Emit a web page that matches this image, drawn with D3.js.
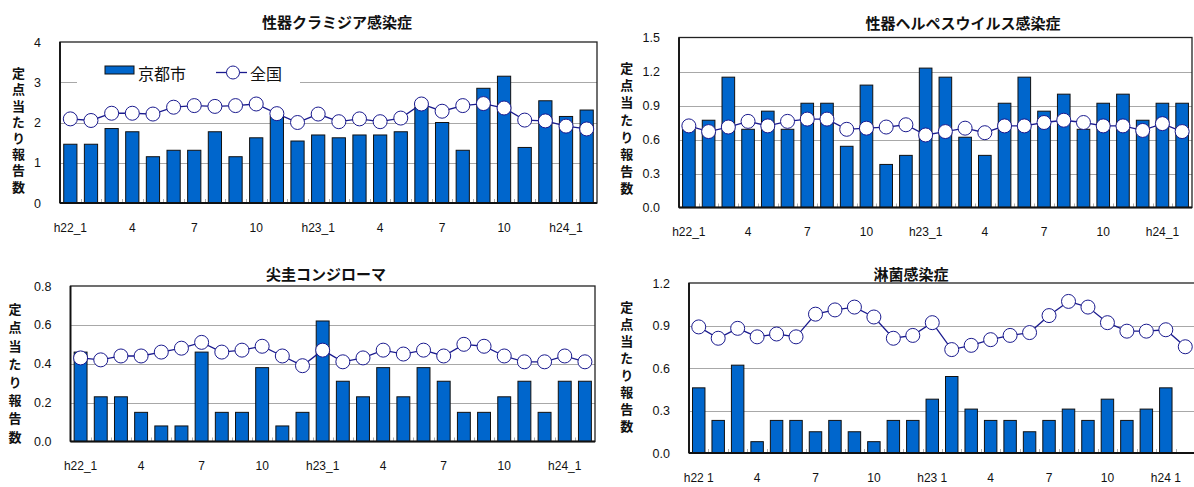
<!DOCTYPE html>
<html><head><meta charset="utf-8">
<script src="https://cdn.jsdelivr.net/npm/d3@7"></script>
<style>html,body{margin:0;padding:0;background:#fff;overflow:hidden}</style>
</head><body><svg id="c" width="1194" height="487"></svg>
<script>
// ---- data ----
const months = [
  "h22_1","h22_2","h22_3","h22_4","h22_5","h22_6","h22_7","h22_8","h22_9","h22_10","h22_11","h22_12",
  "h23_1","h23_2","h23_3","h23_4","h23_5","h23_6","h23_7","h23_8","h23_9","h23_10","h23_11","h23_12",
  "h24_1","h24_2"];
const tickIndex = [0,3,6,9,12,15,18,21,24];
const tickLabels = ["h22_1","4","7","10","h23_1","4","7","10","h24_1"];
const tickLabelsGono = ["h22 1","4","7","10","h23 1","4","7","10","h24 1"];
const seriesNames = ["京都市","全国"];
const yTitle = "定点当たり報告数";

const chlamydiaKyoto = [1.46,1.46,1.85,1.77,1.15,1.31,1.31,1.77,1.15,1.62,2.15,1.54,1.69,1.62,1.69,1.69,1.77,2.38,2.00,1.31,2.85,3.15,1.38,2.54,2.15,2.31];
const chlamydiaNational = [2.09,2.05,2.23,2.23,2.21,2.38,2.42,2.40,2.42,2.46,2.22,2.00,2.21,2.02,2.09,2.02,2.11,2.46,2.28,2.42,2.47,2.36,2.06,2.04,1.91,1.84];

const herpesKyoto = [0.69,0.77,1.15,0.69,0.85,0.69,0.92,0.92,0.54,1.08,0.38,0.46,1.23,1.15,0.62,0.46,0.92,1.15,0.85,1.00,0.69,0.92,1.00,0.77,0.92,0.92];
const herpesNational = [0.72,0.67,0.71,0.76,0.72,0.76,0.78,0.78,0.69,0.70,0.71,0.73,0.64,0.67,0.70,0.66,0.72,0.72,0.75,0.77,0.75,0.72,0.72,0.68,0.74,0.67];

const condylomaKyoto = [0.46,0.23,0.23,0.15,0.08,0.08,0.46,0.15,0.15,0.38,0.08,0.15,0.62,0.31,0.23,0.38,0.23,0.38,0.31,0.15,0.15,0.23,0.31,0.15,0.31,0.31];
const condylomaNational = [0.43,0.42,0.44,0.44,0.46,0.48,0.51,0.46,0.47,0.49,0.44,0.39,0.47,0.41,0.43,0.47,0.45,0.47,0.44,0.50,0.49,0.44,0.41,0.41,0.44,0.41];

const gonorrheaKyoto = [0.46,0.23,0.62,0.08,0.23,0.23,0.15,0.23,0.15,0.08,0.23,0.23,0.38,0.54,0.31,0.23,0.23,0.15,0.23,0.31,0.23,0.38,0.23,0.31,0.46,null];
const gonorrheaNational = [0.89,0.81,0.88,0.82,0.84,0.82,0.98,1.01,1.03,0.96,0.81,0.83,0.92,0.73,0.76,0.80,0.83,0.85,0.97,1.07,1.03,0.92,0.86,0.86,0.87,0.75];

const ticksChlamydia = [0,1,2,3,4];
const ticksHerpes = [0,0.3,0.6,0.9,1.2,1.5];
const ticksCondyloma = [0,0.2,0.4,0.6,0.8];
const ticksGonorrhea = [0,0.3,0.6,0.9,1.2];

// ---- drawing ----
const svg = d3.select("#c");
const JP = "'Noto Sans CJK JP', 'Noto Sans', sans-serif";
const NUM = "'Liberation Sans', Arial, sans-serif";
const BAR = "#0066CC";
const NAVY = "#1a1a8e";

const panels = [
  {title:"性器クラミジア感染症", kyoto:chlamydiaKyoto, national:chlamydiaNational, ticks:ticksChlamydia, fmt:"d", labels:tickLabels,
   x0:60, x1:597, y0:42, y1:203, tx:337, ty:21, ytx:18.5, ytc:130, yts:16.2, legend:true},
  {title:"性器ヘルペスウイルス感染症", kyoto:herpesKyoto, national:herpesNational, ticks:ticksHerpes, fmt:".1f", labels:tickLabels,
   x0:679, x1:1192, y0:37.5, y1:207.5, tx:963, ty:22, ytx:626.7, ytc:128.2, yts:17.1},
  {title:"尖圭コンジローマ", kyoto:condylomaKyoto, national:condylomaNational, ticks:ticksCondyloma, fmt:".1f", labels:tickLabels,
   x0:70.5, x1:595, y0:286, y1:441.5, tx:326, ty:273, ytx:15, ytc:373, yts:18.2},
  {title:"淋菌感染症", kyoto:gonorrheaKyoto, national:gonorrheaNational, ticks:ticksGonorrhea, fmt:".1f", labels:tickLabelsGono,
   x0:689, x1:1195, y0:283, y1:453, tx:911, ty:273, ytx:626.7, ytc:366.6, yts:17.1}
];

function drawPanel(p){
  const g = svg.append("g");
  const x = d3.scaleBand().domain(months).range([p.x0,p.x1]).paddingInner(0.36).paddingOuter(0.18);
  const y = d3.scaleLinear().domain([p.ticks[0], p.ticks[p.ticks.length-1]]).range([p.y1,p.y0]);
  const crisp = v => Math.round(v)+0.5;

  // gridlines
  g.selectAll("line.grid").data(p.ticks.slice(1,-1)).join("line")
    .attr("x1",p.x0).attr("x2",p.x1)
    .attr("y1",d=>crisp(y(d))).attr("y2",d=>crisp(y(d)))
    .attr("stroke","#a8a8a8").attr("stroke-width",1);

  // legend background (covers gridline)
  if(p.legend){
    g.append("rect").attr("x",77).attr("y",55).attr("width",223).attr("height",37).attr("fill","#fff");
  }

  // category tick marks
  const step = x.step();
  g.selectAll("line.ctick").data(months.slice(1)).join("line")
    .attr("x1",(d,i)=>crisp(p.x0+(i+1)*step)).attr("x2",(d,i)=>crisp(p.x0+(i+1)*step))
    .attr("y1",p.y1).attr("y2",p.y1-4)
    .attr("stroke","#b0b0b0").attr("stroke-width",1);

  // bars
  const barData = months.map((m,i)=>({m, v:p.kyoto[i]})).filter(d=>d.v!=null);
  g.selectAll("rect.bar").data(barData).join("rect")
    .attr("x",d=>x(d.m)).attr("width",x.bandwidth())
    .attr("y",d=>y(d.v)).attr("height",d=>y(0)-y(d.v))
    .attr("fill",BAR).attr("stroke","#111").attr("stroke-width",1);

  // frame
  g.append("rect").attr("x",p.x0).attr("y",p.y0).attr("width",p.x1-p.x0).attr("height",p.y1-p.y0)
    .attr("fill","none").attr("stroke","#222").attr("stroke-width",1.3);
  g.append("line").attr("x1",p.x0).attr("x2",p.x1).attr("y1",p.y1).attr("y2",p.y1)
    .attr("stroke","#111").attr("stroke-width",1.8);
  g.append("line").attr("x1",p.x0).attr("x2",p.x0).attr("y1",p.y0).attr("y2",p.y1)
    .attr("stroke","#111").attr("stroke-width",1.8);

  // national line + markers
  const natData = months.map((m,i)=>({m, v:p.national[i]}));
  const cx = d=>x(d.m)+x.bandwidth()/2;
  g.append("path").datum(natData)
    .attr("d", d3.line().x(cx).y(d=>y(d.v)))
    .attr("fill","none").attr("stroke",NAVY).attr("stroke-width",1.3);
  g.selectAll("circle.nat").data(natData).join("circle")
    .attr("cx",cx).attr("cy",d=>y(d.v)).attr("r",7)
    .attr("fill","#fff").attr("stroke",NAVY).attr("stroke-width",1);

  // axes
  const ax = g.append("g").attr("transform",`translate(0,${p.y1})`)
    .call(d3.axisBottom(x).tickValues(tickIndex.map(i=>months[i]))
      .tickFormat((d,i)=>p.labels[i]).tickSize(0).tickPadding(20));
  ax.select(".domain").remove();
  ax.selectAll("text").attr("font-family",NUM).attr("font-size",12).attr("fill","#111");

  const ay = g.append("g").attr("transform",`translate(${p.x0},0)`)
    .call(d3.axisLeft(y).tickValues(p.ticks).tickFormat(d3.format(p.fmt)).tickSize(0).tickPadding(19));
  ay.select(".domain").remove();
  ay.selectAll("text").attr("font-family",NUM).attr("font-size",12.5).attr("fill","#111");

  // title
  g.append("text").attr("x",p.tx).attr("y",p.ty).attr("text-anchor","middle").attr("dominant-baseline","central")
    .attr("font-family",JP).attr("font-weight","bold").attr("font-size",15).attr("fill","#111").text(p.title);

  // vertical y title (single text, vertical writing mode)
  g.append("text")
    .attr("x",p.ytx).attr("y",p.ytc + (p.yts-13)/2)
    .attr("text-anchor","middle")
    .style("writing-mode","vertical-rl").style("letter-spacing",(p.yts-13)+"px")
    .attr("font-family",JP).attr("font-weight","bold").attr("font-size",13).attr("fill","#111").text(yTitle);

  // legend
  if(p.legend){
    const lg = g.append("g");
    lg.append("rect").attr("x",105).attr("y",66).attr("width",29).attr("height",8)
      .attr("fill",BAR).attr("stroke","#111").attr("stroke-width",1);
    lg.append("text").attr("x",138).attr("y",72.5).attr("dominant-baseline","central")
      .attr("font-family",JP).attr("font-size",16).attr("fill","#111").text(seriesNames[0]);
    lg.append("line").attr("x1",216).attr("x2",247).attr("y1",72.5).attr("y2",72.5)
      .attr("stroke",NAVY).attr("stroke-width",1.3);
    lg.append("circle").attr("cx",233).attr("cy",72.5).attr("r",6.5)
      .attr("fill","#fff").attr("stroke",NAVY).attr("stroke-width",1);
    lg.append("text").attr("x",250).attr("y",72.5).attr("dominant-baseline","central")
      .attr("font-family",JP).attr("font-size",16).attr("fill","#111").text(seriesNames[1]);
  }
}

panels.forEach(drawPanel);
</script>
</body></html>
